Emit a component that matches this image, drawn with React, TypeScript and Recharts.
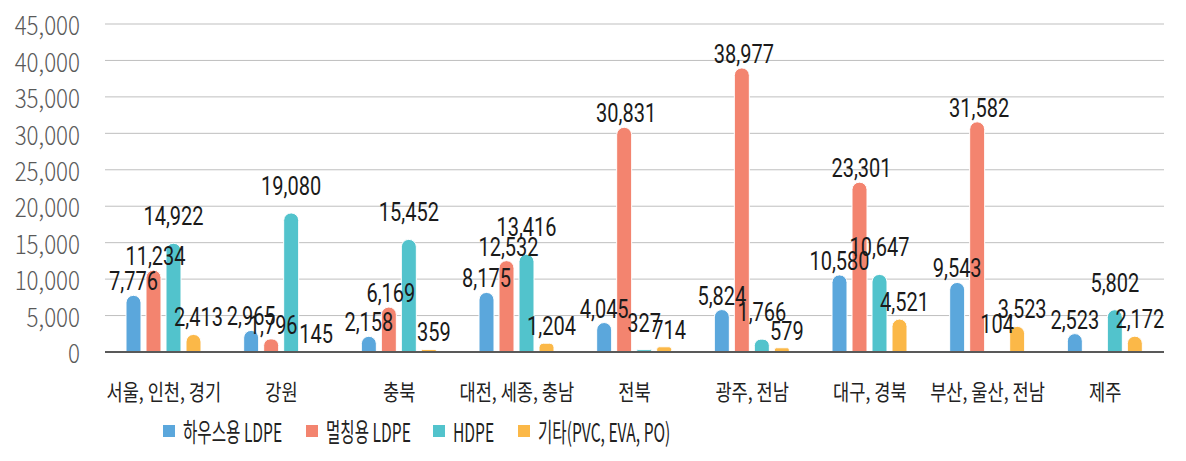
import React from "react";
import { BarChart, Bar, XAxis, YAxis, CartesianGrid, Legend, LabelList } from "recharts";

const regions = ["서울, 인천, 경기", "강원", "충북", "대전, 세종, 충남", "전북", "광주, 전남", "대구, 경북", "부산, 울산, 전남", "제주"];
const houseLdpe = [7776, 2965, 2158, 8175, 4045, 5824, 10580, 9543, 2523];
const mulchLdpe = [11234, 1796, 6169, 12532, 30831, 38977, 23301, 31582, 0];
const hdpe = [14922, 19080, 15452, 13416, 327, 1766, 10647, 104, 5802];
const etc = [2413, 145, 359, 1204, 714, 579, 4521, 3523, 2172];
const yTicks = [0, 5000, 10000, 15000, 20000, 25000, 30000, 35000, 40000, 45000];

const series = [
  { key: "house", name: "하우스용 LDPE", color: "#5ba7dc", lift: 5, shift: 0 },
  { key: "mulch", name: "멀칭용 LDPE", color: "#f3846f", lift: 5, shift: 2 },
  { key: "hdpe", name: "HDPE", color: "#52c3cc", lift: 18, shift: 0 },
  { key: "etc", name: "기타(PVC, EVA, PO)", color: "#fbb848", lift: 8, shift: 5 },
];

const data = regions.map((r, i) => ({
  region: r,
  house: houseLdpe[i],
  mulch: mulchLdpe[i],
  hdpe: hdpe[i],
  etc: etc[i],
}));

const fmt = (v: number) => v.toLocaleString("en-US");
const KR = "'Noto Sans CJK KR', sans-serif";

// narrow fonts are faked with a horizontal squeeze
const YTick = (props: any) => {
  const { x, y, payload } = props;
  return (
    <text transform={`translate(${x},${y}) scale(0.86,1)`} textAnchor="end" dominantBaseline="central" fill="#595959" fontSize={26} fontFamily={KR} fontWeight={300}>
      {fmt(payload.value)}
    </text>
  );
};

const XTick = (props: any) => {
  const { x, y, payload } = props;
  return (
    <text transform={`translate(${x},${y}) scale(0.8,1)`} textAnchor="middle" dominantBaseline="hanging" fill="#222" fontSize={22} fontFamily={KR}>
      {payload.value}
    </text>
  );
};

const makeLabel = (lift: number, shift: number) => (props: any) => {
  const { x, y, width, value } = props;
  const cx = Number(x) + Number(width) / 2 + shift;
  return (
    <text transform={`translate(${cx},${Number(y) - lift}) scale(0.8,1)`} textAnchor="middle" fill="#1a1a1a" fontSize={25} fontFamily="Roboto, sans-serif">
      {fmt(Number(value))}
    </text>
  );
};

const legendLeft = [163, 306, 433, 518];

function LegendBox() {
  return (
    <div style={{ position: "relative", height: 45, fontFamily: KR, fontSize: 26, color: "#222" }}>
      {series.map((s, i) => (
        <div key={s.key} style={{ position: "absolute", left: legendLeft[i], top: 10, display: "flex", alignItems: "center", whiteSpace: "nowrap", lineHeight: "30px" }}>
          <span style={{ width: 12, height: 12, background: s.color, display: "inline-block", marginRight: 8 }} />
          <span style={{ display: "inline-block", transform: "scaleX(0.6)", transformOrigin: "left center" }}>{s.name}</span>
        </div>
      ))}
    </div>
  );
}

export default function App() {
  return (
    <div style={{ position: "absolute", left: 0, top: 0, background: "#fff" }}>
      <BarChart width={1186} height={461} data={data} margin={{ top: 24, right: 22, left: 0, bottom: 10 }} barSize={15} barGap={5}>
        <CartesianGrid vertical={false} stroke="#bfbfbf" />
        <XAxis
          dataKey="region"
          axisLine={{ stroke: "#595959", strokeWidth: 2 }}
          tickLine={false}
          tickMargin={22}
          height={54}
          interval={0}
          tick={<XTick />}
        />
        <YAxis
          domain={[0, 45000]}
          ticks={yTicks}
          axisLine={false}
          tickLine={false}
          tickSize={0}
          tickMargin={25}
          width={105}
          tick={<YTick />}
        />
        <Legend verticalAlign="bottom" height={45} content={() => <LegendBox />} />
        {series.map((s) => {
          const Lbl = makeLabel(s.lift, s.shift);
          return (
            <Bar key={s.key} dataKey={s.key} name={s.name} fill={s.color} stroke="#fff" strokeWidth={1} radius={[8, 8, 0, 0]} isAnimationActive={false}>
              <LabelList dataKey={s.key} content={<Lbl />} />
            </Bar>
          );
        })}
      </BarChart>
    </div>
  );
}
